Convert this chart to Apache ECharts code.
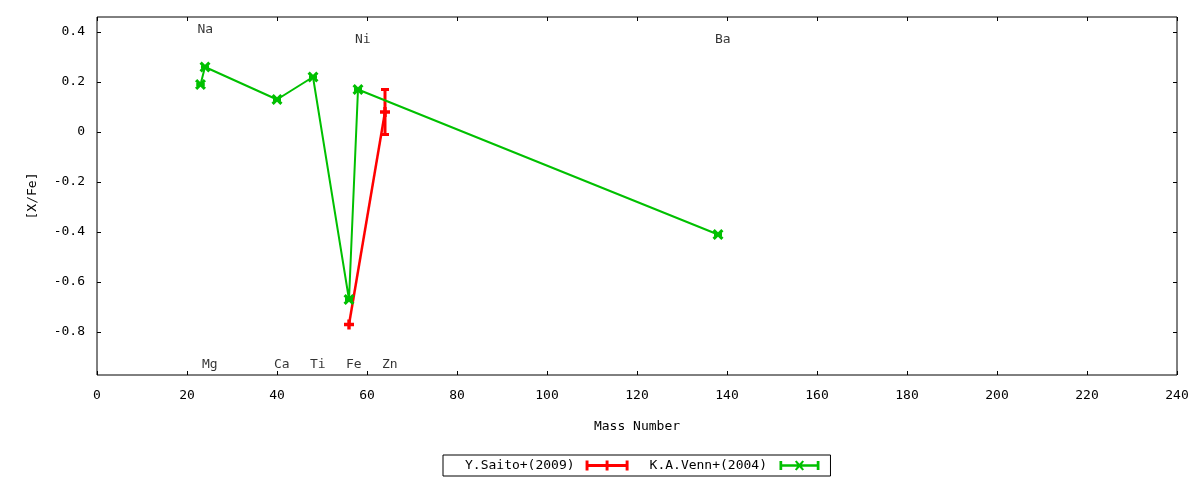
<!DOCTYPE html>
<html>
<head>
<meta charset="utf-8">
<script src="https://cdn.jsdelivr.net/npm/echarts@6/dist/echarts.min.js"></script>
<style>html,body{margin:0;padding:0;background:#fff}#c{width:1200px;height:480px}</style>
</head>
<body>
<div id="c"></div>
<script>
// ---- data ----
const vennMass = [23, 24, 40, 48, 56, 58, 138];
const vennVal  = [0.19, 0.26, 0.13, 0.22, -0.67, 0.17, -0.41];
const vennErr  = [0, 0, 0, 0, 0, 0, 0];
const saitoMass = [56, 64];
const saitoVal  = [-0.77, 0.08];
const saitoErr  = [0, 0.09];
const elemNames = ['Na', 'Ni', 'Ba', 'Mg', 'Ca', 'Ti', 'Fe', 'Zn'];
const elemMass  = [23, 58, 138, 24, 40, 48, 56, 64];
const elemY     = [0.41, 0.37, 0.37, -0.932, -0.932, -0.932, -0.932, -0.932];
const xTicks = [0, 20, 40, 60, 80, 100, 120, 140, 160, 180, 200, 220, 240];
const yTicks = [-0.8, -0.6, -0.4, -0.2, 0, 0.2, 0.4];

const FONT = 'DejaVu Sans Mono';
const RED = '#ff0000', GREEN = '#00c000';

const plusPath = 'path://M3.3,0H6.7V3.3H10V6.7H6.7V10H3.3V6.7H0V3.3H3.3Z';
const xPath = 'path://M0,2L2,0L5,3L8,0L10,2L7,5L10,8L8,10L5,7L2,10L0,8L3,5Z';
const legRed = 'path://M0,3.5H44V6.5H0Z M0,0H3V10H0Z M41,0H44V10H41Z M20.5,0H23.5V10H20.5Z';
const legGreen = 'path://M0,3.5H44V6.5H0Z M0,0H3V10H0Z M41,0H44V10H41Z M17,0.5L18.8,-0.5L22,3.2L25.2,-0.5L27,0.5L23.8,5L27,9.5L25.2,10.5L22,6.8L18.8,10.5L17,9.5L20.2,5Z';

function errData(m, v, e) { return m.map((x, i) => [x, v[i] - e[i], v[i] + e[i]]); }
function errRender(color) {
  return function (params, api) {
    const x = api.value(0), lo = api.value(1), hi = api.value(2);
    const a = api.coord([x, lo]), b = api.coord([x, hi]);
    const st = { stroke: color, lineWidth: 3 };
    const cw = 4;
    return { type: 'group', children: [
      { type: 'line', shape: { x1: a[0], y1: a[1], x2: b[0], y2: b[1] }, style: st },
      { type: 'line', shape: { x1: a[0] - cw, y1: a[1], x2: a[0] + cw, y2: a[1] }, style: st },
      { type: 'line', shape: { x1: b[0] - cw, y1: b[1], x2: b[0] + cw, y2: b[1] }, style: st }
    ]};
  };
}

const chart = echarts.init(document.getElementById('c'));
const txt = { color: '#000', fontFamily: FONT, fontSize: 13 };
const yFmt = v => String(parseFloat((+v).toFixed(1)));
const tick = { show: true, inside: true, length: 4, lineStyle: { color: '#000', width: 1 } };
const noLine = { show: false, onZero: false };

chart.setOption({
  animation: false,
  backgroundColor: '#fff',
  textStyle: { fontFamily: FONT, color: '#000' },
  grid: { left: 97, top: 17, right: 23, bottom: 105, show: true, borderColor: '#000', borderWidth: 1, containLabel: false },
  xAxis: [
    { type: 'value', min: 0, max: 240, interval: 20, position: 'bottom',
      name: 'Mass Number', nameLocation: 'middle', nameGap: 45, nameTextStyle: txt,
      axisLine: noLine, splitLine: { show: false }, axisTick: tick,
      axisLabel: Object.assign({ margin: 14, formatter: v => String(v) }, txt) },
    { type: 'value', min: 0, max: 240, interval: 20, position: 'top',
      axisLine: noLine, splitLine: { show: false }, axisTick: tick,
      axisLabel: { show: false } }
  ],
  yAxis: [
    { type: 'value', min: -0.972, max: 0.46, position: 'left',
      name: '[X/Fe]', nameLocation: 'middle', nameGap: 58, nameTextStyle: txt,
      axisLine: noLine, splitLine: { show: false },
      axisTick: Object.assign({ customValues: yTicks }, tick),
      axisLabel: Object.assign({ margin: 12, customValues: yTicks, formatter: yFmt }, txt) },
    { type: 'value', min: -0.972, max: 0.46, position: 'right',
      axisLine: noLine, splitLine: { show: false },
      axisTick: Object.assign({ customValues: yTicks }, tick),
      axisLabel: { show: false, customValues: yTicks } }
  ],
  legend: {
    data: [{ name: 'Y.Saito+(2009)', icon: legRed }, { name: 'K.A.Venn+(2004)', icon: legGreen }],
    left: 443, top: 455, align: 'right', orient: 'horizontal',
    itemWidth: 43, itemHeight: 10, itemGap: 21,
    padding: [4, 11, 4, 22],
    borderColor: '#000', borderWidth: 1, borderRadius: 0,
    textStyle: Object.assign({ padding: [2, 6, 0, 0] }, txt), selectedMode: false
  },
  series: [
    { name: 'Y.Saito+(2009)', type: 'line', data: saitoMass.map((x, i) => [x, saitoVal[i]]),
      symbol: plusPath, symbolSize: 10, itemStyle: { color: RED }, lineStyle: { color: RED, width: 2.5 }, z: 2 },
    { name: 'Y.Saito+(2009)', type: 'custom', renderItem: errRender(RED), data: errData(saitoMass, saitoVal, saitoErr),
      encode: { x: 0, y: [1, 2] }, itemStyle: { color: RED }, z: 2 },
    { name: 'K.A.Venn+(2004)', type: 'line', data: vennMass.map((x, i) => [x, vennVal[i]]),
      symbol: xPath, symbolSize: 11, itemStyle: { color: GREEN }, lineStyle: { color: GREEN, width: 2 }, z: 3 },
    { name: 'K.A.Venn+(2004)', type: 'custom', renderItem: errRender(GREEN), data: errData(vennMass, vennVal, vennErr),
      encode: { x: 0, y: [1, 2] }, itemStyle: { color: GREEN }, z: 3 },
    { name: 'labels', type: 'scatter', symbolSize: 0, silent: true,
      data: elemNames.map((n, i) => ({ name: n, value: [elemMass[i], elemY[i]] })),
      label: Object.assign({ show: true, formatter: '{b}', position: [-3, 0], align: 'left', verticalAlign: 'middle' }, txt) }
  ]
});
</script>
</body>
</html>
